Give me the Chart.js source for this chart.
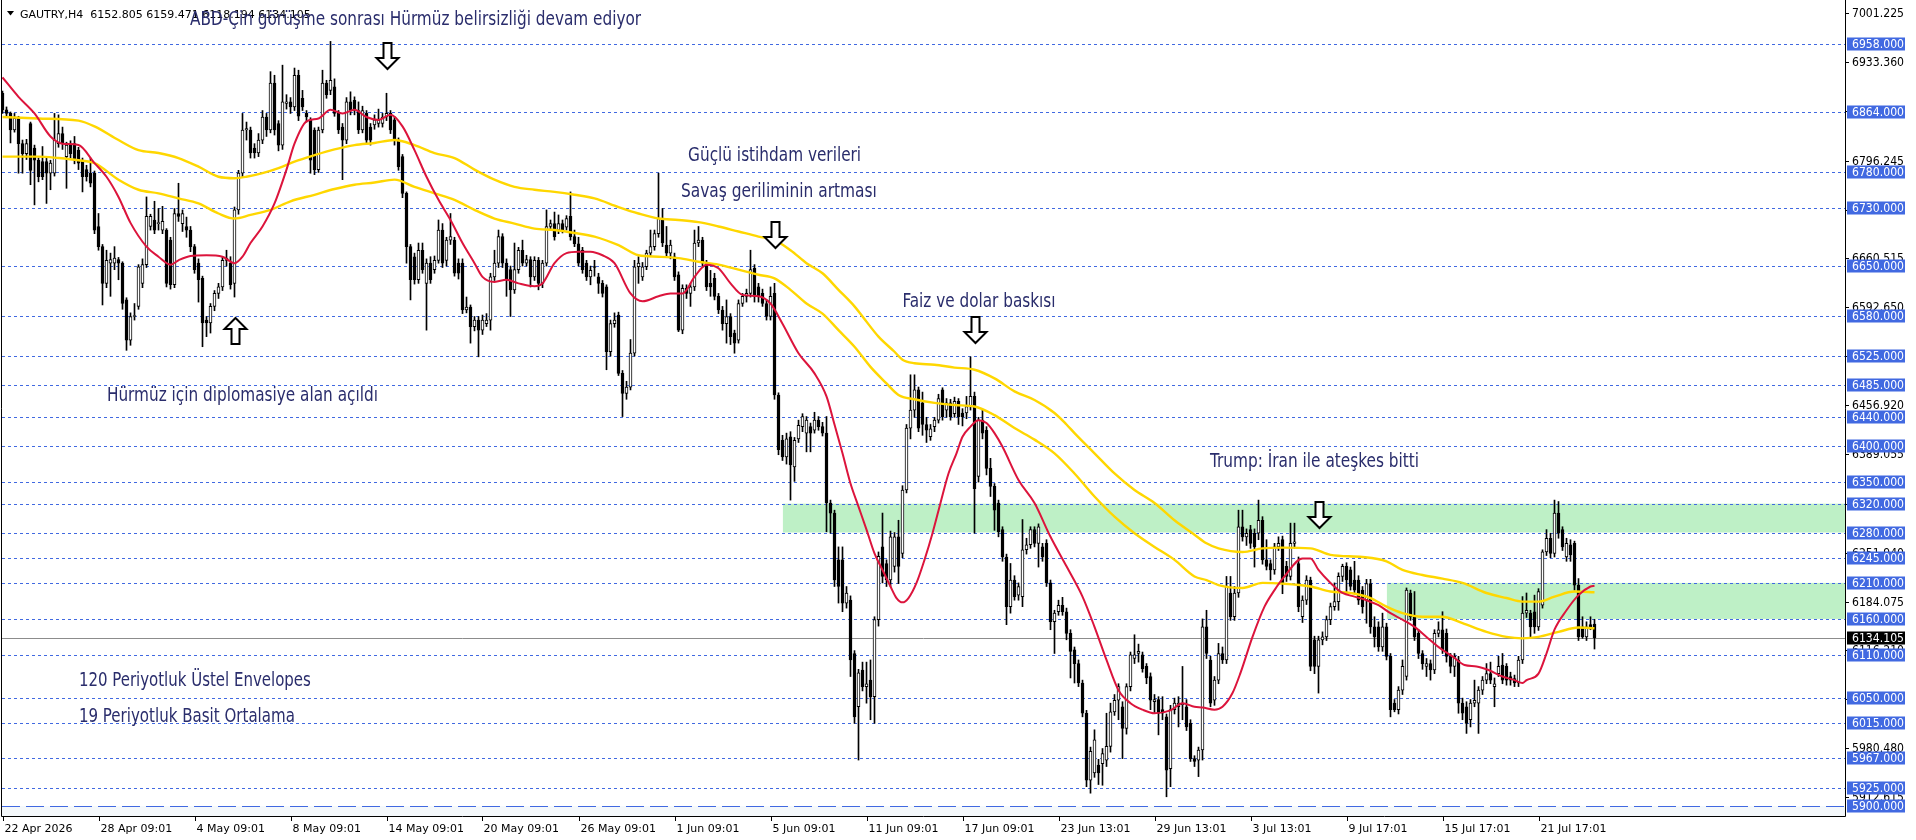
<!DOCTYPE html>
<html><head><meta charset="utf-8">
<script src="https://cdn.jsdelivr.net/npm/chart.js@4/dist/chart.umd.min.js"></script>
<style>html,body{margin:0;padding:0;background:#fff;overflow:hidden}canvas{display:block}</style>
</head><body>
<canvas id="c" width="1916" height="840"></canvas>
<script>
// ---------------- DATA ----------------
const timeLabels = ['22 Apr 2026','28 Apr 09:01','4 May 09:01','8 May 09:01','14 May 09:01','20 May 09:01','26 May 09:01','1 Jun 09:01','5 Jun 09:01','11 Jun 09:01','17 Jun 09:01','23 Jun 13:01','29 Jun 13:01','3 Jul 13:01','9 Jul 17:01','15 Jul 17:01','21 Jul 17:01'];
const timeLabelBars = [0,24,48,72,96,120,144,168,192,216,240,264,288,312,336,360,384];

const opens = [
6890,6867,6862,6839,6855,6820,6806,6848,6814,6797,
6795,6795,6779,6779,6820,6834,6802,6818,6820,6811,
6797,6784,6779,6779,6705,6677,6626,6654,6654,6659,
6654,6603,6547,6580,6594,6626,6652,6705,6714,6709,
6700,6700,6686,6624,6723,6709,6705,6700,6677,6654,
6633,6575,6571,6594,6612,6621,6658,6654,6626,6728,
6779,6839,6839,6814,6807,6825,6857,6839,6904,6848,
6818,6876,6878,6871,6915,6883,6862,6853,6839,6784,
6839,6904,6894,6899,6862,6843,6825,6878,6880,6866,
6839,6862,6843,6846,6848,6848,6857,6862,6853,6825,
6802,6751,6677,6663,6631,6672,6626,6654,6645,6658,
6700,6658,6686,6686,6654,6654,6589,6593,6566,6575,
6561,6570,6575,6635,6654,6691,6654,6645,6617,6645,
6672,6654,6659,6635,6658,6626,6654,6705,6709,6700,
6709,6704,6719,6691,6681,6672,6654,6635,6649,6635,
6626,6621,6531,6570,6582,6501,6473,6482,6529,6649,
6635,6649,6668,6677,6695,6716,6679,6668,6663,6638,
6561,6619,6612,6621,6682,6686,6654,6626,6633,6608,
6589,6570,6580,6557,6547,6598,6608,6612,6647,6621,
6612,6598,6580,6612,6471,6408,6385,6413,6371,6410,
6427,6418,6427,6422,6436,6427,6418,6321,6307,6242,
6242,6182,6186,6112,6038,6089,6066,6075,6052,6159,
6260,6237,6214,6233,6274,6251,6339,6425,6450,6478,
6460,6430,6413,6427,6436,6478,6450,6460,6445,6462,
6446,6446,6455,6469,6358,6436,6422,6369,6344,6321,
6284,6246,6177,6214,6193,6191,6256,6263,6284,6265,
6260,6265,6210,6156,6170,6179,6170,6140,6117,6098,
6071,6029,5936,5946,5957,5959,5964,5983,6031,6047,
6038,6008,6066,6105,6112,6110,6094,6080,6045,6048,
6034,6024,5952,6034,6038,6041,6038,6015,5966,5964,
5978,6149,6103,6047,6075,6112,6103,6196,6163,6196,
6288,6274,6284,6279,6279,6297,6242,6237,6228,6260,
6270,6233,6219,6265,6237,6163,6186,6214,6131,6094,
6131,6135,6159,6177,6184,6219,6233,6228,6214,6214,
6200,6186,6209,6149,6149,6121,6149,6108,6043,6034,
6061,6080,6196,6163,6140,6112,6094,6098,6089,6140,
6145,6140,6108,6094,6103,6043,6038,6020,6043,6043,
6061,6075,6084,6066,6084,6096,6094,6080,6077,6071,
6103,6168,6168,6170,6149,6179,6253,6272,6251,6307,
6284,6246,6263,6265,6207,6149,6135,6152,6152.805];

const highs = [
6893,6871,6864,6862,6858,6825,6826,6850,6818,6800,
6816,6800,6797,6862,6860,6843,6822,6824,6830,6815,
6800,6790,6800,6782,6723,6680,6672,6668,6677,6662,
6656,6606,6585,6598,6652,6660,6746,6722,6740,6730,
6733,6702,6690,6730,6765,6728,6718,6705,6680,6660,
6636,6580,6598,6616,6626,6663,6672,6663,6732,6783,
6862,6850,6843,6820,6834,6866,6862,6920,6915,6852,
6929,6888,6884,6925,6922,6894,6866,6856,6842,6843,
6922,6908,6962,6910,6866,6848,6884,6892,6885,6878,
6872,6866,6848,6860,6868,6862,6890,6866,6858,6828,
6805,6753,6680,6668,6682,6682,6660,6663,6664,6714,
6709,6690,6723,6690,6660,6660,6607,6596,6580,6580,
6582,6584,6640,6672,6700,6695,6660,6650,6682,6676,
6686,6665,6663,6663,6662,6658,6728,6714,6725,6721,
6714,6720,6753,6700,6690,6676,6658,6650,6658,6640,
6630,6624,6575,6585,6586,6505,6490,6548,6658,6663,
6655,6672,6700,6700,6779,6730,6705,6686,6668,6642,
6624,6624,6626,6700,6705,6690,6658,6644,6640,6612,
6594,6603,6584,6561,6603,6612,6618,6672,6652,6626,
6618,6603,6621,6626,6474,6415,6418,6420,6412,6436,
6445,6441,6432,6447,6441,6433,6441,6325,6311,6260,
6260,6205,6192,6116,6090,6100,6100,6103,6163,6253,
6307,6242,6282,6280,6297,6345,6430,6499,6499,6482,
6475,6440,6430,6440,6472,6481,6466,6465,6468,6466,
6452,6469,6524,6475,6440,6450,6427,6383,6348,6325,
6288,6250,6237,6220,6210,6298,6272,6288,6288,6292,
6265,6270,6214,6172,6186,6190,6175,6145,6121,6103,
6075,6033,5982,6006,5965,5980,6029,6043,6055,6070,
6045,6070,6114,6138,6125,6114,6098,6085,6055,6052,
6052,6028,6040,6050,6052,6094,6048,6020,5970,5982,
6160,6172,6108,6080,6126,6121,6219,6219,6205,6311,
6311,6285,6290,6285,6325,6302,6270,6242,6265,6274,
6275,6240,6293,6293,6246,6192,6220,6218,6136,6136,
6142,6164,6182,6210,6224,6236,6238,6232,6240,6220,
6205,6215,6215,6163,6156,6168,6154,6112,6048,6066,
6103,6203,6200,6198,6145,6116,6105,6103,6145,6156,
6170,6146,6112,6112,6108,6050,6045,6048,6075,6066,
6080,6098,6100,6078,6108,6112,6098,6086,6082,6108,
6191,6196,6172,6193,6202,6256,6284,6279,6325,6323,
6288,6272,6270,6268,6216,6163,6156,6163,6159.47];

const lows = [
6862,6858,6821,6836,6779,6779,6798,6763,6735,6767,
6770,6737,6756,6775,6815,6812,6758,6800,6792,6784,
6753,6768,6760,6695,6672,6596,6620,6608,6645,6631,
6590,6533,6540,6575,6590,6620,6648,6700,6695,6700,
6695,6621,6618,6620,6712,6698,6690,6670,6640,6600,
6538,6552,6557,6588,6605,6616,6650,6618,6607,6722,
6774,6825,6800,6800,6802,6820,6830,6835,6832,6810,
6812,6868,6862,6866,6852,6866,6850,6779,6777,6780,
6835,6883,6888,6858,6834,6770,6820,6860,6860,6834,
6835,6820,6818,6840,6843,6843,6852,6834,6818,6783,
6745,6654,6603,6625,6626,6640,6561,6626,6640,6654,
6648,6650,6680,6636,6632,6584,6585,6543,6560,6524,
6555,6566,6561,6630,6648,6648,6608,6580,6612,6640,
6650,6650,6621,6630,6617,6620,6650,6700,6686,6695,
6696,6700,6686,6677,6650,6640,6630,6624,6636,6612,
6607,6506,6525,6565,6498,6441,6465,6478,6525,6626,
6630,6645,6663,6672,6690,6677,6663,6660,6630,6559,
6556,6605,6594,6616,6677,6648,6616,6608,6603,6584,
6561,6543,6541,6529,6543,6594,6600,6607,6600,6600,
6594,6575,6575,6465,6388,6380,6375,6325,6351,6405,
6420,6392,6392,6418,6422,6414,6281,6279,6205,6182,
6170,6175,6080,6015,5964,6060,6043,6020,6015,6150,
6210,6205,6205,6225,6209,6245,6335,6410,6440,6420,
6415,6405,6408,6420,6432,6436,6440,6436,6440,6430,
6428,6438,6450,6279,6350,6410,6360,6330,6283,6274,
6240,6152,6168,6186,6186,6177,6250,6258,6260,6232,
6240,6205,6145,6112,6165,6165,6131,6078,6071,6066,
6024,5927,5918,5940,5930,5929,5955,5975,6026,6020,
5966,6000,6060,6098,6100,6086,6070,6034,6030,5999,
6020,5913,5927,6028,6010,6020,6005,5962,5955,5941,
5964,6105,6038,6040,6070,6098,6098,6158,6158,6190,
6268,6262,6258,6232,6270,6236,6228,6214,6222,6255,
6195,6212,6214,6258,6170,6155,6180,6088,6084,6057,
6124,6130,6152,6172,6172,6212,6196,6200,6195,6180,
6168,6154,6140,6121,6115,6115,6103,6024,6031,6028,
6055,6075,6158,6130,6105,6090,6080,6075,6084,6135,
6112,6100,6085,6080,6029,6020,6001,6010,6038,6001,
6055,6070,6070,6038,6080,6070,6068,6068,6066,6066,
6098,6162,6135,6140,6144,6175,6248,6245,6246,6272,
6255,6240,6240,6200,6130,6133,6130,6145,6118.194];

const closes = [
6867,6862,6839,6855,6820,6806,6820,6783,6797,6774,
6774,6779,6793,6825,6834,6820,6818,6806,6797,6793,
6774,6774,6765,6700,6677,6626,6658,6659,6661,6654,
6598,6547,6580,6580,6649,6652,6719,6719,6700,6709,
6712,6626,6624,6723,6719,6723,6700,6677,6645,6631,
6571,6571,6594,6612,6621,6658,6661,6624,6728,6779,
6839,6841,6807,6807,6825,6857,6839,6904,6839,6818,
6878,6878,6871,6915,6858,6871,6857,6797,6784,6839,
6904,6888,6908,6862,6839,6825,6878,6866,6866,6839,
6866,6825,6825,6853,6853,6857,6862,6839,6825,6788,
6751,6677,6631,6631,6672,6645,6654,6631,6658,6700,
6654,6686,6691,6640,6640,6589,6593,6566,6575,6561,
6575,6575,6635,6654,6691,6654,6631,6617,6645,6672,
6654,6659,6635,6658,6626,6654,6705,6709,6691,6709,
6700,6716,6691,6681,6654,6645,6635,6644,6648,6626,
6612,6531,6570,6575,6501,6473,6482,6529,6649,6654,
6649,6668,6677,6695,6716,6682,6668,6679,6635,6561,
6619,6612,6621,6682,6686,6654,6621,6621,6608,6589,
6570,6580,6552,6543,6598,6608,6612,6645,6608,6608,
6598,6580,6608,6471,6395,6385,6410,6374,6408,6429,
6441,6436,6418,6436,6427,6418,6321,6307,6214,6205,
6182,6196,6103,6024,6085,6066,6070,6052,6159,6247,
6219,6214,6274,6274,6233,6339,6425,6450,6478,6425,
6430,6422,6424,6436,6466,6441,6460,6441,6462,6441,
6441,6455,6469,6341,6436,6418,6369,6344,6311,6281,
6246,6177,6214,6191,6205,6256,6263,6284,6265,6288,
6246,6210,6156,6168,6179,6170,6140,6115,6098,6071,
6029,5936,5976,5992,5946,5973,5983,6031,6047,6066,
6008,6066,6110,6110,6115,6091,6078,6047,6048,6029,
6029,5950,6034,6043,6043,6043,6010,5966,5962,5978,
6149,6112,6043,6075,6112,6103,6205,6163,6196,6288,
6274,6279,6265,6260,6297,6242,6233,6228,6260,6265,
6210,6219,6265,6267,6177,6186,6214,6094,6094,6131,
6135,6159,6177,6184,6219,6233,6214,6205,6200,6186,
6177,6209,6149,6135,6121,6149,6108,6034,6034,6061,
6094,6200,6163,6135,6112,6098,6098,6089,6140,6145,
6117,6108,6094,6108,6043,6029,6015,6043,6047,6061,
6075,6084,6075,6070,6094,6075,6075,6075,6071,6103,
6168,6172,6149,6149,6198,6253,6272,6251,6307,6279,
6260,6265,6249,6207,6135,6135,6149,6149,6134.105];

// 19-period SMA (red) at sample bars
const smaBars = [0,4,8,12,15,19,23,26,29,32,36,39,42,44,47,51,55,58,60,62,65,68,71,73,76,79,82,85,88,91,94,97,100,103,106,109,112,115,118,120,123,126,129,133,135,138,141,144,147,150,153,157,160,164,167,170,173,176,179,182,185,189,192,195,199,203,206,208,210,212,214,216,218,220,222,223.5,225,226.5,228.5,230.5,232.5,234.5,236.5,238.5,240,242,244,246,248,250,254,258,262,266,270,273,276,279,282,285,288,292,295,298,300,303,305,307.5,309.5,312.5,315.5,318,320.5,325,327,329,332,335,338,341,344,347,350,353,356,359.5,362.5,365.5,368.5,371.5,375,378,380,381,384,386,388,391,394,397,398];
const smaValues = [6912,6885,6862,6830,6820,6818,6793,6774,6746,6710,6677,6663,6652,6658,6664,6665,6663,6654,6663,6682,6705,6737,6784,6820,6851,6855,6867,6862,6867,6857,6853,6860,6844,6811,6774,6742,6714,6682,6654,6635,6628,6631,6626,6622,6626,6654,6668,6670,6670,6665,6654,6612,6601,6608,6612,6612,6635,6652,6647,6626,6610,6608,6598,6570,6529,6501,6469,6430,6390,6348,6316,6284,6251,6228,6205,6189,6183,6189,6210,6242,6279,6321,6362,6390,6413,6427,6436,6432,6418,6399,6353,6321,6274,6233,6191,6149,6103,6061,6043,6034,6029,6033,6043,6038,6037,6034,6038,6057,6085,6135,6177,6200,6219,6244,6244,6228,6210,6196,6191,6186,6179,6168,6159,6149,6135,6119,6108,6096,6094,6089,6080,6075,6071,6075,6084,6112,6145,6172,6193,6205,6206];

// 120-period exponential envelopes (yellow), upper and lower band
const envUpperBars = [0,9,19,23,29,34,39,44,49,54,58,61,65,69,73,78,83,88,93,98,103,108,113,118,123,128,133,138,143,148,154,159,164,169,174,179,184,189,193,197,201,205,209,213,215,219,223,225,228,233,238,243,248,253,258,263,266,268,273,278,283,288,293,298,301,304,310,315,320,327,332,340,346,350,355,360,365,371,376,380,384,388,393,398];
const envUpperValues = [6857,6855,6852,6844,6825,6811,6807,6800,6788,6774,6772,6774,6779,6786,6795,6804,6812,6818,6821,6825,6818,6807,6800,6784,6770,6760,6756,6753,6749,6744,6732,6723,6716,6714,6711,6705,6698,6691,6686,6672,6654,6640,6617,6594,6580,6552,6531,6520,6515,6513,6509,6506,6494,6476,6464,6446,6430,6418,6390,6362,6339,6321,6297,6277,6265,6258,6253,6258,6259,6258,6249,6246,6240,6228,6221,6216,6210,6196,6189,6184,6184,6191,6198,6197];
const envLowerBars = [0,9,14,19,23,29,34,39,44,49,54,58,62,67,72,78,83,88,93,98,103,108,113,118,123,128,133,138,143,148,154,159,164,169,174,179,184,189,193,197,201,205,209,213,217,221,224,228,233,238,243,248,253,258,263,268,273,278,283,288,293,298,301,304,310,315,320,327,332,337,342,346,350,355,360,365,371,376,380,384,389,394,398];
const envLowerValues = [6802,6802,6800,6797,6793,6770,6756,6751,6744,6737,6723,6716,6721,6728,6740,6749,6757,6763,6766,6770,6760,6751,6742,6728,6716,6709,6702,6700,6696,6691,6679,6665,6663,6661,6656,6652,6645,6638,6633,6617,6598,6584,6561,6538,6510,6487,6471,6465,6460,6457,6455,6443,6425,6409,6390,6362,6330,6302,6279,6260,6242,6219,6214,6207,6203,6210,6209,6205,6198,6196,6189,6177,6168,6163,6163,6154,6142,6135,6133,6135,6142,6148,6147];

const levelPrices = [6958,6864,6780,6730,6650,6580,6525,6485,6440,6400,6350,6320,6280,6245,6210,6160,6110,6050,6015,5967,5925];
const bottomLevel = 5900;
const currentPrice = 6134.105;
const priceTicks = [7001.225,6933.360,6865.495,6796.245,6728.380,6660.515,6592.650,6524.785,6456.920,6389.055,6320.190,6251.940,6184.075,6116.210,6048.345,5980.480,5912.615];
const zoneLows = [6280,6160];
const zoneHighs = [6320,6210];
const zoneStartBars = [195.1,346.1];

// ---------------- ANNOTATIONS ----------------
const notes = [
 {text:'ABD-Çin görüşme sonrası Hürmüz belirsizliği devam ediyor', bar:46.9, price:6984.8, w:451},
 {text:'Güçlü istihdam verileri', bar:171.4, price:6796.4, w:173},
 {text:'Savaş geriliminin artması', bar:169.6, price:6746.4, w:196},
 {text:'Faiz ve dolar baskısı', bar:225.0, price:6593.6, w:153},
 {text:'Trump: İran ile ateşkes bitti', bar:301.9, price:6371.4, w:209},
 {text:'Hürmüz için diplomasiye alan açıldı', bar:26.1, price:6463.1, w:271},
 {text:'120 Periyotluk Üstel Envelopes', bar:19.1, price:6067.3, w:232},
 {text:'19 Periyotluk Basit Ortalama', bar:19.1, price:6017.3, w:216}
];
const arrows = [
 {bar:96.1, price:6923.7, dir:1},
 {bar:193.1, price:6675.1, dir:1},
 {bar:243.1, price:6543.2, dir:1},
 {bar:329.1, price:6286.3, dir:1},
 {bar:58.1, price:6577.9, dir:-1}
];
const headerText = 'GAUTRY,H4  6152.805 6159.471 6118.194 6134.105';

// ---------------- BUILD ----------------
const bodies = opens.map((o,i)=>({x:i, y:[o, closes[i]]}));
const wicks = lows.map((l,i)=>({x:i, y:[l, highs[i]]}));
const bodyColors = opens.map((o,i)=> closes[i] >= o ? '#ffffff' : '#000000');
const toPts = (bs, vs) => bs.map((b,i)=>({x:b, y:vs[i]}));

const AXIS_FONT = '11px "DejaVu Sans", Verdana, sans-serif';
const PRICE_FONT = '12px "DejaVu Sans", Verdana, sans-serif';
const NOTE_FONT = '20px "Liberation Sans Narrow", "DejaVu Sans Condensed", "Roboto", sans-serif';
const BLUE = '#4169E1';

function drawArrow(ctx, cx, tip, dir){
  const H=26, hh=11, sw=4, hw=11;
  const base = tip - dir*H, neck = tip - dir*hh;
  ctx.beginPath();
  ctx.moveTo(cx-sw, base); ctx.lineTo(cx+sw, base); ctx.lineTo(cx+sw, neck);
  ctx.lineTo(cx+hw, neck); ctx.lineTo(cx, tip); ctx.lineTo(cx-hw, neck);
  ctx.lineTo(cx-sw, neck); ctx.closePath();
  ctx.fillStyle='#ffffff'; ctx.fill();
  ctx.lineWidth=2; ctx.strokeStyle='#000'; ctx.lineJoin='miter'; ctx.stroke();
}

const mt4Plugin = {
  id:'mt4',
  beforeDraw(chart){
    const c = chart.ctx; c.save(); c.fillStyle='#fff'; c.fillRect(0,0,chart.width,chart.height); c.restore();
  },
  beforeDatasetsDraw(chart){
    const {ctx, chartArea:a, scales:{x,y}} = chart;
    ctx.save();
    const yb = y.getPixelForValue(bottomLevel);
    ctx.fillStyle = '#f4f8fb';
    ctx.fillRect(a.left, yb, a.right-a.left, a.bottom-yb);
    ctx.fillStyle = 'rgb(190,240,198)';
    for (let k=0;k<zoneLows.length;k++){
      const x0 = x.getPixelForValue(zoneStartBars[k]);
      const y0 = y.getPixelForValue(zoneHighs[k]), y1 = y.getPixelForValue(zoneLows[k]);
      ctx.fillRect(x0, y0, a.right-x0, y1-y0);
    }
    ctx.strokeStyle = BLUE; ctx.lineWidth = 1; ctx.setLineDash([3,3]);
    ctx.beginPath();
    levelPrices.forEach(p=>{ const yy=Math.round(y.getPixelForValue(p))+0.5; ctx.moveTo(a.left,yy); ctx.lineTo(a.right,yy); });
    ctx.stroke();
    ctx.setLineDash([18,6]); ctx.beginPath();
    const yy5 = Math.round(yb)+0.5; ctx.moveTo(a.left,yy5); ctx.lineTo(a.right,yy5); ctx.stroke();
    ctx.setLineDash([]); ctx.strokeStyle='#8c8c8c'; ctx.beginPath();
    const yc = Math.round(y.getPixelForValue(currentPrice))+0.5; ctx.moveTo(a.left,yc); ctx.lineTo(a.right,yc); ctx.stroke();
    ctx.restore();
  },
  afterDatasetsDraw(chart){
    const {ctx, scales:{x,y}} = chart;
    ctx.save();
    ctx.fillStyle='#000';
    ctx.beginPath(); ctx.moveTo(7,11); ctx.lineTo(14,11); ctx.lineTo(10.5,15.5); ctx.closePath(); ctx.fill();
    ctx.font = AXIS_FONT; ctx.textBaseline='alphabetic'; ctx.textAlign='left';
    ctx.fillText(headerText, 20, 18, 299);
    ctx.font = NOTE_FONT; ctx.fillStyle = '#2a2d6c';
    notes.forEach(n=>{
      const px = x.getPixelForValue(n.bar), py = y.getPixelForValue(n.price);
      const w = ctx.measureText(n.text).width;
      ctx.save(); ctx.translate(px, py); ctx.scale(n.w / w, 1); ctx.fillText(n.text, 0, 0); ctx.restore();
    });
    arrows.forEach(ar=> drawArrow(ctx, Math.round(x.getPixelForValue(ar.bar))+0.5, y.getPixelForValue(ar.price), ar.dir));
    ctx.restore();
  },
  afterDraw(chart){
    const {ctx, chartArea:a, scales:{x,y}} = chart;
    ctx.save();
    ctx.strokeStyle='#000'; ctx.lineWidth=1; ctx.beginPath();
    ctx.moveTo(1.5, 0); ctx.lineTo(1.5, a.bottom+0.5);
    ctx.lineTo(a.right+0.5, a.bottom+0.5); ctx.lineTo(a.right+0.5, 0);
    ctx.stroke();
    // time axis
    ctx.font = AXIS_FONT; ctx.fillStyle='#000'; ctx.textBaseline='middle'; ctx.textAlign='left';
    ctx.beginPath();
    timeLabelBars.forEach((b,i)=>{
      const px = Math.round(x.getPixelForValue(b))+0.5;
      ctx.moveTo(px, a.bottom+1); ctx.lineTo(px, a.bottom+5);
      ctx.fillText(timeLabels[i], px+1, a.bottom+13);
    });
    ctx.stroke();
    // price axis
    ctx.font = PRICE_FONT;
    ctx.beginPath();
    priceTicks.forEach(p=>{
      const py = Math.round(y.getPixelForValue(p))+0.5;
      ctx.moveTo(a.right+1, py); ctx.lineTo(a.right+4, py);
      ctx.fillText(p.toFixed(3), a.right+7, py, 52);
    });
    ctx.stroke();
    const box = (p, bg)=>{
      const py = Math.round(y.getPixelForValue(p));
      ctx.fillStyle = bg; ctx.fillRect(a.right+2, py-6.5, 58, 13);
      ctx.fillStyle = '#fff'; ctx.fillText(p.toFixed(3), a.right+7, py+0.5, 52);
    };
    levelPrices.forEach(p=>box(p, BLUE));
    box(bottomLevel, BLUE);
    box(currentPrice, '#000');
    ctx.restore();
  }
};

new Chart(document.getElementById('c'), {
  type:'bar',
  data:{datasets:[
    {type:'line', data: toPts(smaBars, smaValues), borderColor:'#dc143c', borderWidth:2, pointRadius:0, cubicInterpolationMode:'monotone', order:0},
    {type:'line', data: toPts(envUpperBars, envUpperValues), borderColor:'#ffd700', borderWidth:2.4, pointRadius:0, cubicInterpolationMode:'monotone', order:0},
    {type:'line', data: toPts(envLowerBars, envLowerValues), borderColor:'#ffd700', borderWidth:2.4, pointRadius:0, cubicInterpolationMode:'monotone', order:0},
    {type:'bar', data: bodies, backgroundColor: bodyColors, borderColor:'#000', borderWidth:1, borderSkipped:false, barThickness:3, minBarLength:1, grouped:false, order:1},
    {type:'bar', data: wicks, backgroundColor:'#000', borderWidth:0, barThickness:1, grouped:false, order:2}
  ]},
  options:{
    responsive:false, animation:false, events:[],
    layout:{padding:{left:2, right:71, top:0, bottom:24}},
    plugins:{legend:{display:false}, tooltip:{enabled:false}},
    scales:{
      x:{type:'linear', min:-0.125, max:460.625, offset:false, display:false},
      y:{type:'linear', min:5886.3, max:7019.5, display:false}
    }
  },
  plugins:[mt4Plugin]
});
</script>
</body></html>
